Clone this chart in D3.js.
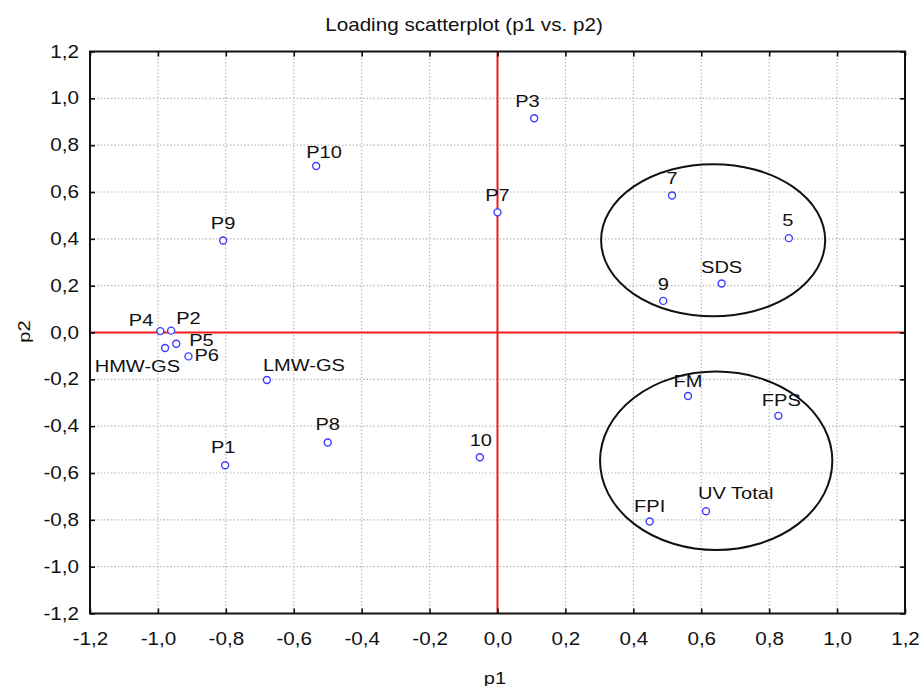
<!DOCTYPE html>
<html>
<head>
<meta charset="utf-8">
<script src="https://cdn.jsdelivr.net/npm/d3@7"></script>
<style>
  html, body { margin: 0; padding: 0; background: #fff; }
  svg text { font-family: "Liberation Sans", Arial, sans-serif; fill: #111; }
</style>
</head>
<body>
<svg id="chart" width="919" height="686"></svg>
<script>
// Loadings on the first two components
const labels = ["P10", "P3", "7", "P7", "5", "SDS", "9", "P9", "P4", "P2", "P5", "HMW-GS", "P6",
                "LMW-GS", "P8", "P1", "10", "FM", "FPS", "UV Total", "FPI"];
const p1 = [-0.534, 0.108, 0.514, 0.000, 0.858, 0.660, 0.488, -0.808, -0.993, -0.961, -0.946, -0.979, -0.910,
            -0.679, -0.500, -0.802, -0.052, 0.561, 0.827, 0.614, 0.448];
const p2 = [0.711, 0.915, 0.585, 0.513, 0.403, 0.209, 0.135, 0.393, 0.006, 0.008, -0.048, -0.066, -0.102,
            -0.203, -0.470, -0.567, -0.533, -0.271, -0.356, -0.763, -0.807];

// Tick values shared by both axes
const ticks = [-1.2, -1.0, -0.8, -0.6, -0.4, -0.2, 0.0, 0.2, 0.4, 0.6, 0.8, 1.0, 1.2];

// Group outlines (centre p1, centre p2, radius p1, radius p2)
const groupCx = [0.635, 0.644];
const groupCy = [0.394, -0.548];
const groupRx = [0.330, 0.342];
const groupRy = [0.325, 0.381];

// Label placement around each marker: anchor and offset in px
const labelPlace = {
  "P10": ["start", -10, -8], "P3": ["start", -19, -11], "7": ["middle", 0, -12],
  "P7": ["middle", 0, -11], "5": ["middle", -1, -12], "SDS": ["middle", 0, -11],
  "9": ["middle", 0, -11], "P9": ["middle", 0, -11], "P4": ["end", -7, -5],
  "P2": ["start", 5, -7], "P5": ["start", 13, 2], "HMW-GS": ["end", 15, 24],
  "P6": ["start", 6, 5], "LMW-GS": ["start", -4, -9], "P8": ["middle", 0, -13],
  "P1": ["middle", -2, -12], "10": ["middle", 1, -11], "FM": ["middle", 0, -9],
  "FPS": ["middle", 3, -10], "UV Total": ["start", -8, -12], "FPI": ["middle", 0, -9]
};

const svg = d3.select("#chart");
const plotL = 90, plotR = 905, plotT = 51.5, plotB = 613.5;
const stretch = 1.18;   // wide lettering

const x = d3.scaleLinear().domain([-1.2, 1.2]).range([plotL, plotR]);
const y = d3.scaleLinear().domain([-1.2, 1.2]).range([plotB, plotT]);
const fmt = v => d3.format(".1f")(v).replace(".", ",").replace("−", "-");

// Draw a horizontally widened text anchored at (px, py)
function wideText(parent, px, py, str, size, anchor) {
  return parent.append("text")
    .attr("transform", `translate(${px},${py}) scale(${stretch},1)`)
    .attr("text-anchor", anchor || "middle")
    .style("font-size", size + "px")
    .text(str);
}

// Title
wideText(svg, 464, 31, "Loading scatterplot (p1 vs. p2)", 17.5, "middle");

// Dotted grid
const grid = svg.append("g");
grid.selectAll("line.gx").data(ticks.slice(1, -1)).join("line")
  .attr("x1", d => x(d)).attr("x2", d => x(d))
  .attr("y1", plotT).attr("y2", plotB)
  .attr("stroke", "#b8b8b8").attr("stroke-width", 1.2).attr("stroke-dasharray", "1.5,2");
grid.selectAll("line.gy").data(ticks.slice(1, -1)).join("line")
  .attr("y1", d => y(d)).attr("y2", d => y(d))
  .attr("x1", plotL).attr("x2", plotR)
  .attr("stroke", "#b8b8b8").attr("stroke-width", 1.2).attr("stroke-dasharray", "1.5,2");

// Zero reference lines
svg.append("line")
  .attr("x1", x(0)).attr("x2", x(0)).attr("y1", plotT).attr("y2", plotB)
  .attr("stroke", "#ee1c1c").attr("stroke-width", 2);
svg.append("line")
  .attr("x1", plotL).attr("x2", plotR).attr("y1", y(0)).attr("y2", y(0))
  .attr("stroke", "#ee1c1c").attr("stroke-width", 2);

// Axes with inward ticks on all four sides
const axisStyle = g => {
  g.select(".domain").remove();
  g.selectAll(".tick line").attr("stroke", "#111").attr("stroke-width", 1.6);
  g.selectAll(".tick text").style("font-size", "17.5px").attr("fill", "#111")
    .each(function () {
      const t = d3.select(this);
      const tx = +t.attr("x") || 0;
      t.attr("x", tx / stretch).attr("transform", `scale(${stretch},1)`);
    });
};
svg.append("g").attr("transform", `translate(0,${plotB})`)
  .call(d3.axisBottom(x).tickValues(ticks).tickFormat(fmt).tickSizeInner(-5).tickPadding(19))
  .call(axisStyle);
svg.append("g").attr("transform", `translate(0,${plotT})`)
  .call(d3.axisTop(x).tickValues(ticks).tickFormat("").tickSizeInner(-5))
  .call(axisStyle);
svg.append("g").attr("transform", `translate(${plotL},0)`)
  .call(d3.axisLeft(y).tickValues(ticks).tickFormat(fmt).tickSizeInner(-5).tickPadding(11))
  .call(axisStyle);
svg.append("g").attr("transform", `translate(${plotR},0)`)
  .call(d3.axisRight(y).tickValues(ticks).tickFormat("").tickSizeInner(-5))
  .call(axisStyle);

// Plot frame
svg.append("rect")
  .attr("x", plotL).attr("y", plotT).attr("width", plotR - plotL).attr("height", plotB - plotT)
  .attr("fill", "none").attr("stroke", "#111").attr("stroke-width", 2);

// Axis titles
wideText(svg, 495, 684, "p1", 17, "middle");
svg.append("text")
  .attr("transform", `translate(30,${y(0) - 1}) rotate(-90) scale(${stretch},1)`)
  .attr("text-anchor", "middle").style("font-size", "17px").text("p2");

// Group outlines
svg.append("g").selectAll("ellipse").data(groupCx).join("ellipse")
  .attr("cx", (d, i) => x(d))
  .attr("cy", (d, i) => y(groupCy[i]))
  .attr("rx", (d, i) => x(groupRx[i]) - x(0))
  .attr("ry", (d, i) => y(0) - y(groupRy[i]))
  .attr("fill", "none").attr("stroke", "#111").attr("stroke-width", 2);

// Markers and labels
const pts = labels.map((l, i) => ({ label: l, p1: p1[i], p2: p2[i] }));
svg.append("g").selectAll("circle").data(pts).join("circle")
  .attr("cx", d => x(d.p1)).attr("cy", d => y(d.p2)).attr("r", 3.5)
  .attr("fill", "#fff").attr("stroke", "#3c3cff").attr("stroke-width", 1.4);
const labelLayer = svg.append("g");
pts.forEach(d => {
  const [anchor, dx, dy] = labelPlace[d.label];
  wideText(labelLayer, x(d.p1) + dx, y(d.p2) + dy, d.label, 17, anchor);
});
</script>
</body>
</html>
